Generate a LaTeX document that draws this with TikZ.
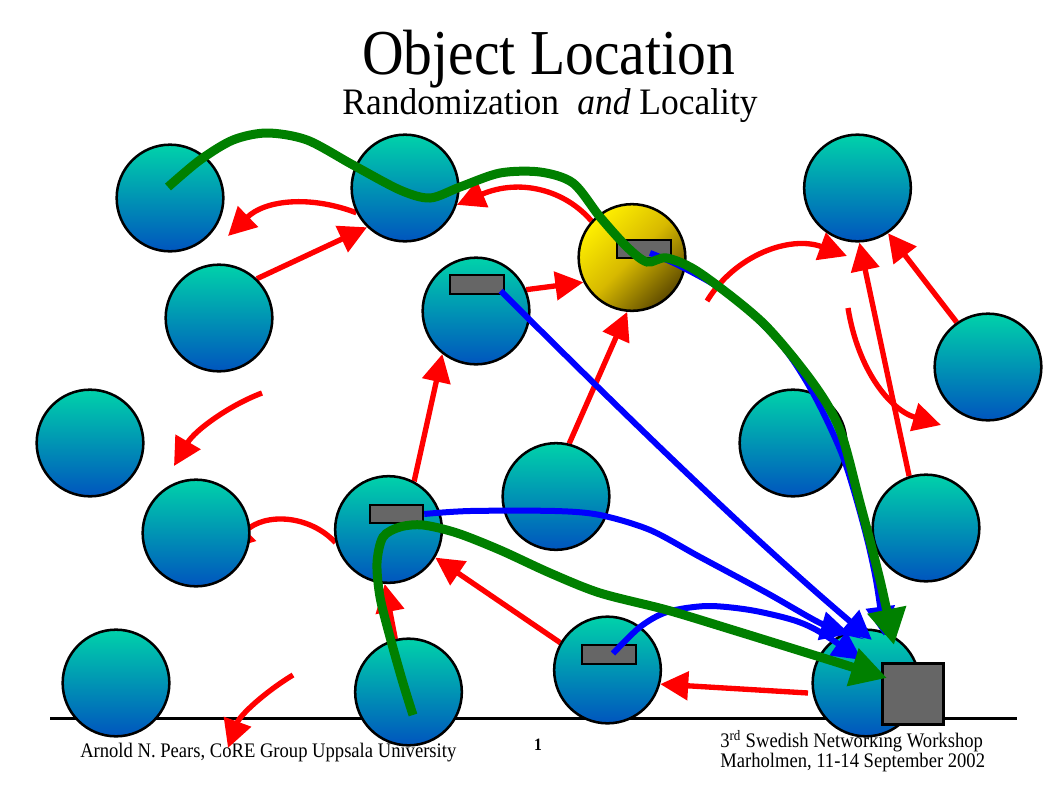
\documentclass[tikz,border=0pt]{standalone}
\usepackage{fontspec}
\setmainfont{Liberation Serif}[FakeStretch=0.9]
\newfontfamily\subfont{Liberation Serif}[FakeStretch=0.95]
\usetikzlibrary{arrows.meta}
\pgfdeclarelayer{bg}
\pgfsetlayers{bg,main}
\definecolor{ctop}{RGB}{0,210,170}
\definecolor{cbot}{RGB}{0,85,190}
\definecolor{yTop}{RGB}{255,240,0}
\definecolor{yMid}{RGB}{215,185,0}
\definecolor{yBot}{RGB}{95,75,0}
\definecolor{boxgray}{RGB}{102,102,102}
\definecolor{gr}{RGB}{0,128,0}
\definecolor{bl}{RGB}{0,0,255}
\definecolor{rd}{RGB}{255,0,0}
\begin{document}
\begin{tikzpicture}[x=0.75pt,y=-0.75pt,
  ball/.style={circle,draw=black,line width=1.9pt,minimum size=80pt,inner sep=0pt,top color=ctop,bottom color=cbot},
  goldball/.style={ball,top color=yTop,bottom color=yBot,middle color=yMid,shading angle=45},
  tag/.style={rectangle,draw=black,line width=1.6pt,fill=boxgray,minimum width=40pt,minimum height=14pt,inner sep=0pt},
  objbox/.style={rectangle,draw=black,line width=1.9pt,fill=boxgray,minimum size=46pt,inner sep=0pt},
  redarr/.style={draw=rd,line width=4pt,-{Triangle[length=21pt,width=21pt]}},
  bluearr/.style={draw=bl,line width=4.5pt,-{Triangle[length=22pt,width=21pt]}},
  greenarr/.style={draw=gr,line width=6.75pt,-{Triangle[length=27pt,width=28pt]}},
  foot/.style={font=\fontsize{15.5}{18}\selectfont,inner sep=0pt}
]
\useasboundingbox (0,0) rectangle (1058,793);
% circles
\node[ball] (c1) at (170,198) {};
\node[ball] (c2) at (405,188) {};
\node[ball] (c3) at (219,318) {};
\node[ball] (c4) at (476,311) {};
\node[goldball] (c5) at (632,257.5) {};
\node[ball] (c6) at (857.5,188) {};
\node[ball] (c7) at (988,367) {};
\node[ball] (c8) at (90,443) {};
\node[ball] (c9) at (793,443) {};
\node[ball] (c10) at (196,533) {};
\node[ball] (c11) at (388.5,529.5) {};
\node[ball] (c12) at (556,496.5) {};
\node[ball] (c13) at (926,528) {};
\node[ball] (c14) at (116,683) {};
\node[ball] (c15) at (408.5,692) {};
\node[ball] (c16) at (607.5,670) {};
\node[ball] (c17) at (866,683) {};
% object tags
\node[tag] (b4) at (477,284.5) {};
\node[tag] (b5) at (644,249) {};
\node[tag] (b11) at (396.5,514) {};
\node[tag] (b16) at (609,654.5) {};
\node[objbox] (b17) at (913,694) {};
% titles
\node[anchor=base,inner sep=0pt,font=\fontsize{48}{52}\selectfont] (title) at (548.5,74) {Object Location};
\node[anchor=base,inner sep=0pt,font=\subfont\fontsize{28}{32}\selectfont] (subtitle) at (550,114) {Randomization\hspace{0.25em} \textit{and} Locality};
% free ends
\coordinate (t1) at (228,236);
\coordinate (s7) at (707,301); \coordinate (t7) at (847,256);
\coordinate (s10) at (848,308); \coordinate (t10) at (941,425);
\coordinate (s11) at (262,393); \coordinate (t11) at (174,466);
\coordinate (t12) at (226,550);
\coordinate (s14) at (808,693);
\coordinate (s16) at (293,675); \coordinate (t16) at (228,748);
\coordinate (tb1) at (872,640); \coordinate (tb2) at (884,636);
\coordinate (tb3) at (850,634); \coordinate (tb4) at (862,660);
\coordinate (sb1) at ([shift={(-4,-4)}]b4.south east);
\coordinate (sb2) at ([shift={(6,4)}]b5.center);
\coordinate (sb4) at ([shift={(4,-1)}]b16.center);
\coordinate (sg1) at (168,187); \coordinate (tg1) at (894,645);
\coordinate (sg2) at (413,715); \coordinate (tg2) at (887,678);
\coordinate (ruleL) at (50,718); \coordinate (ruleR) at (1017,718);
\begin{pgfonlayer}{bg}
\fill[white] (0,0) rectangle (1058,793);
\draw[line width=2.25pt] (ruleL) -- (ruleR);
\node[foot,anchor=base west] (auth) at (80,757) {Arnold N. Pears, CoRE Group Uppsala University};
\node[anchor=base,inner sep=0pt,font=\bfseries\fontsize{13}{14}\selectfont] (pg) at (538,750) {1};
\node[foot,anchor=base west] (ws1) at (720,747) {3\textsuperscript{rd} Swedish Networking Workshop};
\node[foot,anchor=base west] (ws2) at (720,767) {Marholmen, 11-14 September 2002};
% red arrows
\draw[redarr] (c2.207) .. controls (310,195) and (265,200) .. (t1);
\draw[redarr] (c3.46) -- (c2.226);
\draw[redarr] (c5.138) .. controls (565,190) and (520,178) .. (c2.342);
\draw[redarr] (c4.23) -- (c5.207);
\draw[redarr] (c11.62) -- (c4.232);
\draw[redarr] (c12.76) -- (c5.265);
\draw[redarr] (s7) .. controls (735,255) and (790,235) .. (t7);
\draw[redarr] (c13.108) -- (c6.272);
\draw[redarr] (c7.125) -- (c6.304);
\draw[redarr] (s10) .. controls (858,370) and (890,410) .. (t10);
\draw[redarr] (s11) .. controls (230,405) and (195,430) .. (t11);
\draw[redarr] (c11.194) .. controls (310,515) and (265,512) .. (t12);
\draw[redarr] (c16.150) -- (c11.329);
\draw[redarr] (s14) -- (c16.345);
\draw[redarr] (c15.104) -- (c11.266);
\draw[redarr] (s16) .. controls (265,692) and (240,715) .. (t16);
\end{pgfonlayer}
% blue arrows
\draw[bluearr] (sb1) .. controls (650,440) and (760,545) .. (tb1);
\draw[bluearr] plot[smooth] coordinates {(sb2) (680,266) (730,295) (780,343) (813,393) (843,457) (864,527) (876,580) (tb2)};
\draw[bluearr] plot[smooth] coordinates {(b11.east) (470,511) (555,511) (600,515) (650,530) (700,557) (767,593) (820,623) (tb3)};
\draw[bluearr] plot[smooth] coordinates {(sb4) (640,627) (667,612) (707,606) (750,610) (793,620) (820,632) (tb4)};
% green arrows
\draw[greenarr] plot[smooth] coordinates {(sg1) (200,160) (233,140) (267,133) (307,140) (353,165) (400,190) (430,198) (460,187) (500,173) (540,172) (573,183) (600,217) (627,247) (647,262) (667,258) (700,273) (763,323) (813,383) (840,430) (860,503) (880,580) (tg1)};
\draw[greenarr] plot[smooth] coordinates {(sg2) (403,683) (390,637) (380,597) (377,563) (383,537) (400,527) (423,525) (457,533) (500,550) (550,573) (600,593) (667,610) (733,630) (820,657) (tg2)};
\end{tikzpicture}
\end{document}
